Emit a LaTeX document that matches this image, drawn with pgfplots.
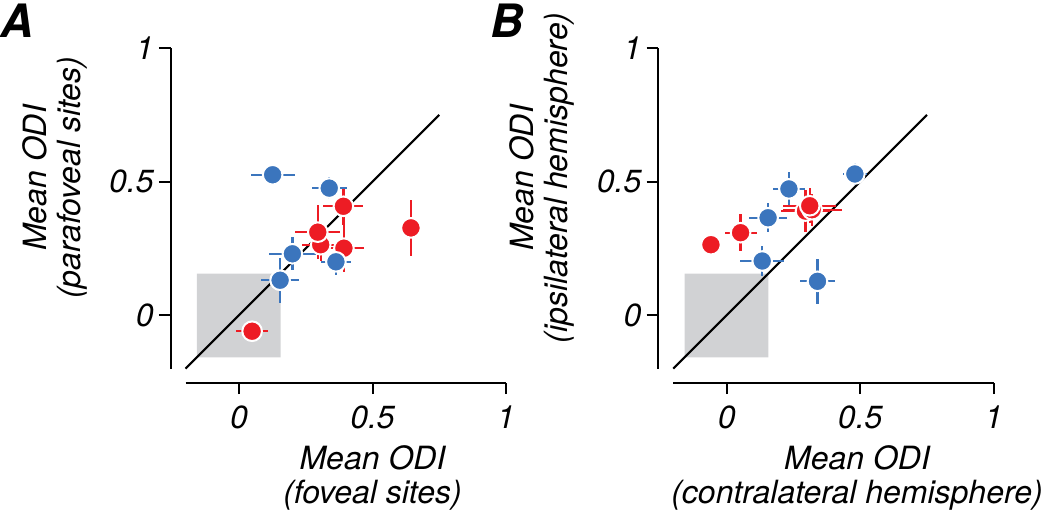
\documentclass[border=0pt]{standalone}
\usepackage{pgfplots}
\pgfplotsset{compat=1.18}
\usepackage{pgfplotstable}
\usepackage{fontspec}
\setmainfont{TeX Gyre Heros}
\definecolor{myblue}{RGB}{59,117,189}
\definecolor{myred}{RGB}{237,28,36}
\definecolor{mygray}{RGB}{209,210,212}

\pgfplotstableread[row sep=\\]{
x y ex ey\\
0.126 0.526 0.082 0.040\\
0.338 0.476 0.066 0.040\\
0.200 0.230 0.087 0.062\\
0.363 0.200 0.056 0.050\\
0.154 0.131 0.072 0.084\\
}\Ablue
\pgfplotstableread[row sep=\\]{
x y ex ey\\
0.306 0.264 0.070 0.060\\
0.295 0.311 0.084 0.100\\
0.393 0.251 0.076 0.090\\
0.391 0.408 0.075 0.070\\
0.644 0.327 0.020 0.106\\
0.049 -0.060 0.060 0.020\\
}\Ared
\pgfplotstableread[row sep=\\]{
x y ex ey\\
0.480 0.529 0.045 0.040\\
0.233 0.473 0.060 0.065\\
0.155 0.365 0.072 0.055\\
0.133 0.203 0.083 0.057\\
0.340 0.127 0.065 0.084\\
}\Bblue
\pgfplotstableread[row sep=\\]{
x y ex ey\\
-0.059 0.264 0.000 0.000\\
0.052 0.309 0.060 0.070\\
0.295 0.390 0.090 0.080\\
0.320 0.395 0.110 0.060\\
0.311 0.410 0.100 0.065\\
}\Bred

\pgfplotsset{
  odistyle/.style={
    scale only axis, width=160.2pt, height=160.2pt,
    xmin=-0.2, xmax=1, ymin=-0.2, ymax=1,
    axis x line*=bottom, axis y line*=left,
    axis x line shift=7pt, axis y line shift=7.5pt,
    axis line style={line width=1pt},
    tick align=outside, major tick length=5.8pt,
    tick style={line width=1pt, black},
    xtick={0,0.5,1}, ytick={0,0.5,1},
    xticklabels={0,0.5,1}, yticklabels={0,0.5,1},
    ticklabel style={font=\fontsize{16}{18}\selectfont\itshape},
    xticklabel style={inner sep=0pt, yshift=-5.5pt},
    yticklabel style={inner sep=0pt, xshift=-2.5pt},
    clip=false,
  },
  ebars/.style={only marks, mark=none, #1,
    error bars/.cd, x dir=both, x explicit, y dir=both, y explicit,
    error mark=none, error bar style={line width=1.2pt, #1}},
  dots/.style={only marks, mark=*, mark size=4.9pt,
    mark options={fill=#1, draw=white, line width=1pt}},
}

\begin{document}
\begin{tikzpicture}
\useasboundingbox (0,0) rectangle (525pt,258pt);

% Panel A
\begin{axis}[odistyle, at={(92.8pt,73.7pt)}, anchor=south west]
\addplot[fill=mygray, draw=none] coordinates {(-0.158,-0.158) (0.156,-0.158) (0.156,0.156) (-0.158,0.156) (-0.158,-0.158)};
\addplot[black, line width=1.05pt] coordinates {(-0.2,-0.2) (0.75,0.75)};
\addplot[ebars=myred] table[x=x, y=y, x error=ex, y error=ey] {\Ared};
\addplot[ebars=myblue] table[x=x, y=y, x error=ex, y error=ey] {\Ablue};
\addplot[dots=myred] table[x=x, y=y] {\Ared};
\addplot[dots=myblue] table[x=x, y=y] {\Ablue};
\end{axis}

% Panel B
\begin{axis}[odistyle, at={(336.65pt,73.7pt)}, anchor=south west]
\addplot[fill=mygray, draw=none] coordinates {(-0.158,-0.158) (0.156,-0.158) (0.156,0.156) (-0.158,0.156) (-0.158,-0.158)};
\addplot[black, line width=1.05pt] coordinates {(-0.2,-0.2) (0.75,0.75)};
\addplot[ebars=myblue] table[x=x, y=y, x error=ex, y error=ey] {\Bblue};
\addplot[ebars=myred] table[x=x, y=y, x error=ex, y error=ey] {\Bred};
\addplot[dots=myblue] table[x=x, y=y] {\Bblue};
\addplot[dots=myred] table[x=x, y=y] {\Bred};
\end{axis}

% Labels
\begin{scope}[every node/.style={inner sep=0pt, font=\fontsize{16}{18}\selectfont\itshape}]
\node[anchor=base] at (186.25pt,23.35pt) {Mean ODI};
\node[anchor=base] at (186.25pt,6.35pt) {(foveal sites)};
\node[anchor=base] at (428.5pt,23.35pt) {Mean ODI};
\node[anchor=base] at (428.5pt,6.35pt) {(contralateral hemisphere)};
\node[anchor=base, rotate=90] at (23.35pt,169pt) {Mean ODI};
\node[anchor=base, rotate=90] at (40.35pt,169pt) {(parafoveal sites)};
\node[anchor=base, rotate=90] at (266.65pt,169pt) {Mean ODI};
\node[anchor=base, rotate=90] at (283.65pt,169pt) {(ipsilateral hemisphere)};
\end{scope}
\node[anchor=base west, inner sep=0pt, font=\fontsize{23}{26}\selectfont\bfseries\itshape] at (0pt,239.5pt) {A};
\node[anchor=base west, inner sep=0pt, font=\fontsize{23}{26}\selectfont\bfseries\itshape] at (245pt,239.5pt) {B};
\end{tikzpicture}
\end{document}
